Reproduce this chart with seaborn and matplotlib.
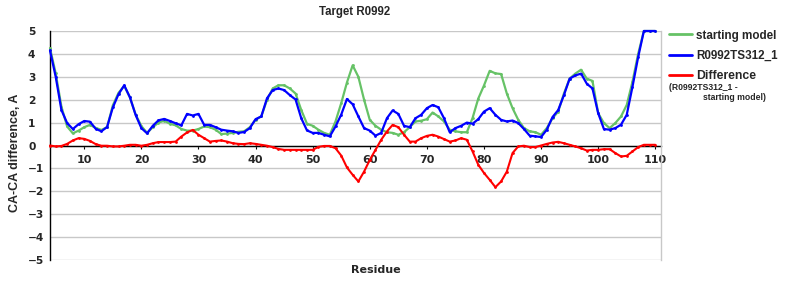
import matplotlib
matplotlib.use("Agg")
import matplotlib.pyplot as plt
import seaborn as sns

residues = list(range(4, 111))

starting_model = [
    4.25, 3.15, 1.70, 0.83, 0.53, 0.65, 0.80, 0.90, 0.77, 0.68,   # 4-13
    0.80, 1.75, 2.30, 2.60, 2.10, 1.35, 0.85, 0.55, 0.80, 1.00,   # 14-23
    1.08, 0.95, 0.88, 0.72, 0.65, 0.65, 0.72, 0.83, 0.80, 0.69,   # 24-33
    0.50, 0.52, 0.55, 0.60, 0.62, 0.80, 1.12, 1.27, 1.99, 2.49,   # 34-43
    2.63, 2.63, 2.49, 2.27, 1.55, 0.95, 0.86, 0.69, 0.55, 0.47,   # 44-53
    1.05, 1.85, 2.75, 3.50, 3.00, 2.00, 1.12, 0.86, 0.69, 0.58,   # 54-63
    0.55, 0.47, 0.58, 0.80, 1.05, 1.08, 1.15, 1.44, 1.27, 1.05,   # 64-73
    0.69, 0.62, 0.58, 0.58, 1.20, 2.05, 2.62, 3.26, 3.15, 3.12,   # 74-83
    2.27, 1.63, 1.12, 0.76, 0.62, 0.58, 0.47, 0.76, 1.19, 1.48,   # 84-93
    2.27, 2.92, 3.14, 3.31, 2.92, 2.82, 1.41, 0.98, 0.76, 0.98,   # 94-103
    1.27, 1.77, 2.78, 4.00, 5.00, 5.00, 5.00,                     # 104-110
]

r0992ts312_1 = [
    4.15, 3.00, 1.55, 0.98, 0.72, 0.93, 1.07, 1.04, 0.73, 0.62,   # 4-13
    0.81, 1.66, 2.24, 2.63, 2.10, 1.33, 0.76, 0.53, 0.86, 1.10,   # 14-23
    1.16, 1.07, 0.97, 0.88, 1.38, 1.31, 1.38, 0.90, 0.90, 0.80,   # 24-33
    0.69, 0.65, 0.62, 0.55, 0.59, 0.76, 1.15, 1.27, 2.06, 2.42,   # 34-43
    2.49, 2.42, 2.20, 2.01, 1.19, 0.66, 0.55, 0.55, 0.47, 0.40,   # 44-53
    0.83, 1.35, 2.03, 1.80, 1.27, 0.76, 0.65, 0.43, 0.55, 1.19,   # 54-63
    1.53, 1.38, 0.86, 0.80, 1.19, 1.34, 1.63, 1.77, 1.67, 1.19,   # 64-73
    0.58, 0.76, 0.86, 1.00, 0.95, 1.15, 1.48, 1.63, 1.34, 1.12,   # 74-83
    1.05, 1.09, 0.98, 0.72, 0.43, 0.40, 0.37, 0.69, 1.24, 1.55,   # 84-93
    2.20, 2.92, 3.06, 3.14, 2.70, 2.49, 1.41, 0.72, 0.69, 0.76,   # 94-103
    0.91, 1.34, 2.56, 3.86, 5.00, 5.00, 5.00,                     # 104-110
]

difference = [
    0.00, -0.04, -0.02, 0.07, 0.22, 0.32, 0.29, 0.20, 0.06, -0.01,      # 4-13
    -0.01, -0.04, -0.04, -0.01, 0.03, 0.03, -0.01, 0.03, 0.10, 0.15,    # 14-23
    0.15, 0.15, 0.17, 0.39, 0.57, 0.68, 0.47, 0.32, 0.17, 0.20,         # 24-33
    0.22, 0.17, 0.10, 0.07, 0.06, 0.10, 0.07, 0.03, -0.01, -0.07,       # 34-43
    -0.15, -0.19, -0.19, -0.19, -0.19, -0.19, -0.19, -0.06, -0.02, -0.02,  # 44-53
    -0.12, -0.44, -0.96, -1.28, -1.57, -1.14, -0.63, -0.19, 0.25, 0.61,    # 54-63
    0.90, 0.80, 0.47, 0.17, 0.17, 0.32, 0.42, 0.47, 0.39, 0.28,         # 64-73
    0.17, 0.22, 0.32, 0.25, -0.26, -0.84, -1.20, -1.50, -1.82, -1.57,   # 74-83
    -1.14, -0.33, -0.04, -0.01, -0.07, -0.07, 0.00, 0.07, 0.13, 0.16,   # 84-93
    0.10, 0.03, -0.04, -0.12, -0.22, -0.19, -0.19, -0.16, -0.16, -0.33, # 94-103
    -0.48, -0.45, -0.26, -0.07, 0.03, 0.03, 0.03,                       # 104-110
]

series_labels = ["starting model", "R0992TS312_1", "Difference"]
series_colors = ["#66c266", "#0000ff", "#ff0000"]
x_ticks = list(range(10, 111, 10))
y_ticks = list(range(-5, 6))

sns.set_style("white")
plt.rcParams['font.family'] = ['DejaVu Sans']
plt.rcParams['font.weight'] = 'bold'
plt.rcParams['axes.unicode_minus'] = True

fig = plt.figure(figsize=(8, 3), dpi=100)
ax = fig.add_axes([50 / 800, 1 - 260 / 300, 611 / 800, 229 / 300])

for vals, lab, col, lw in zip([starting_model, r0992ts312_1, difference],
                              series_labels, series_colors, [1.6, 1.6, 1.5]):
    sns.lineplot(x=residues, y=vals, ax=ax, color=col, linewidth=lw,
                 label=lab, marker='o', markersize=2, markeredgewidth=0,
                 clip_on=False, zorder=3)

ax.set_xlim(4, 111)
ax.set_ylim(-5, 5)
ax.set_yticks(y_ticks)
ax.set_xticks(x_ticks)
ax.grid(axis='y', color='#c8c8c8', linewidth=1)
ax.grid(axis='x', visible=False)

ax.spines['top'].set_visible(False)
ax.spines['right'].set_color('#c8c8c8')
ax.spines['right'].set_linewidth(1)
ax.spines['left'].set_color('black')
ax.spines['left'].set_linewidth(1)
ax.spines['bottom'].set_position(('data', 0))
ax.spines['bottom'].set_color('black')
ax.spines['bottom'].set_linewidth(1)
ax.spines['bottom'].set_zorder(2)

ax.tick_params(axis='x', direction='out', length=2.5, width=0.8, color='black',
               pad=4, labelsize=8, bottom=True)
ax.tick_params(axis='y', length=0, pad=15.8, labelsize=7.7)
for lbl in ax.get_yticklabels():
    lbl.set_horizontalalignment('left')
for lbl in ax.get_xticklabels() + ax.get_yticklabels():
    lbl.set_fontweight('bold')

ax.set_xlabel('')
ax.set_ylabel('CA-CA difference, A', fontsize=9, fontweight='bold',
              family='Liberation Sans')
ax.yaxis.set_label_coords(-0.0475, 0.47)

fig.text(355 / 800, 1 - 12 / 300, 'Target R0992', ha='center', va='center',
         fontsize=8.3, fontweight='bold', family='Liberation Sans')
fig.text(376 / 800, 1 - 270 / 300, 'Residue', ha='center', va='center',
         fontsize=8, fontweight='bold')

leg = ax.legend(loc='upper left', bbox_to_anchor=(658 / 800, 1 - 19 / 300),
                bbox_transform=fig.transFigure, frameon=False,
                handlelength=2.0, handletextpad=0.4, labelspacing=0.72,
                prop={'family': 'Liberation Sans', 'weight': 'bold', 'size': 8.4})
for h in leg.legend_handles:
    h.set_linewidth(2)
    h.set_marker('')
leg.get_texts()[2].set_fontsize(8.8)

fig.text(669 / 800, 1 - 88 / 300, '(R0992TS312_1 -', ha='left', va='center',
         fontsize=6.2, fontweight='bold', family='Liberation Sans')
fig.text(703 / 800, 1 - 98 / 300, 'starting model)', ha='left', va='center',
         fontsize=6.2, fontweight='bold', family='Liberation Sans')

fig.savefig('out.png', dpi=100)
